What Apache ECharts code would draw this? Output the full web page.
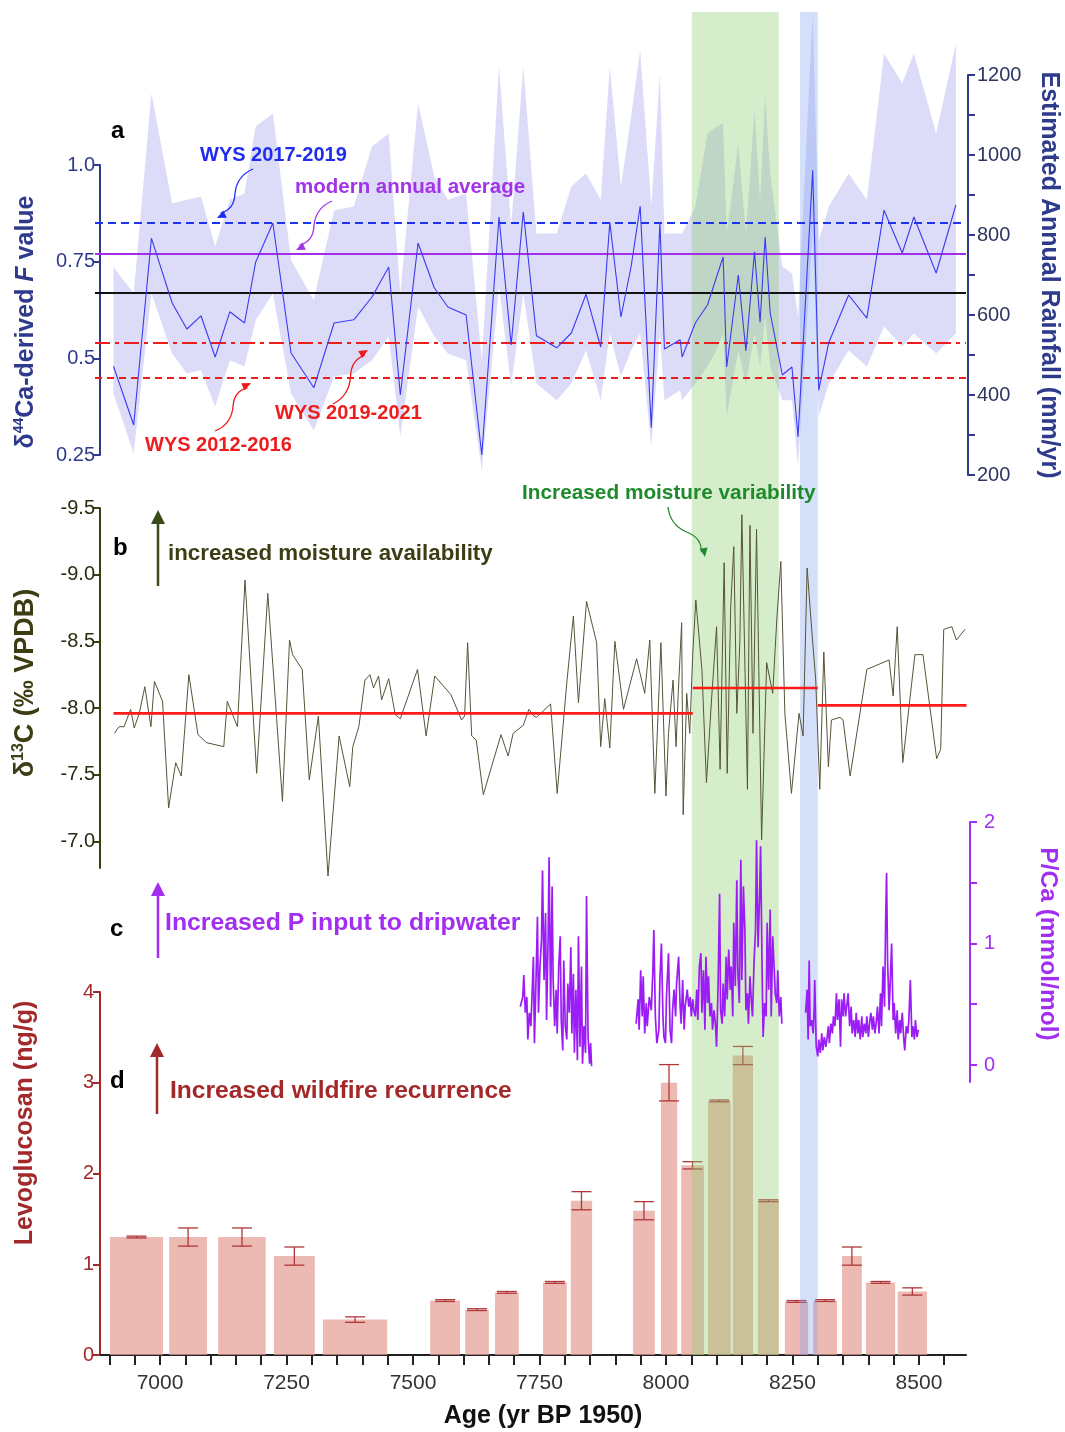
<!DOCTYPE html>
<html>
<head>
<meta charset="utf-8">
<script src="https://cdn.jsdelivr.net/npm/echarts@6/dist/echarts.min.js"></script>
<style>
  html, body { margin: 0; padding: 0; background: #fff; }
  #chart { width: 1065px; height: 1432px; }
</style>
</head>
<body>
<div id="chart"></div>
<script>
// ---- data (ages in yr BP 1950) ----
// panel a: estimated annual rainfall (mm/yr) and its envelope
const rainAge = [6908,6948,6983,7024,7053,7081,7109,7138,7167,7189,7223,7259,7304,7344,7383,7419,7452,7475,7510,7542,7569,7605,7636,7670,7694,7718,7744,7784,7813,7842,7871,7889,7911,7931,7949,7971,7988,7997,8028,8032,8058,8082,8100,8113,8120,8143,8158,8175,8186,8196,8206,8230,8249,8261,8290,8302,8322,8361,8397,8431,8467,8490,8534,8573];
const rainMid = [472,325,792,630,565,598,495,608,580,732,830,505,418,580,588,645,720,400,780,668,620,600,250,845,525,858,548,518,555,652,520,832,595,720,872,318,832,515,538,495,580,625,695,745,470,700,510,758,582,795,605,450,470,295,962,412,532,650,592,862,755,845,705,875];
const rainHigh = [720,654,1154,879,888,896,771,888,904,1071,1104,737,637,862,871,1021,1054,654,1129,946,888,904,487,1221,821,1221,804,804,921,954,888,1221,921,1096,1262,871,1204,804,804,804,871,1054,1071,1079,804,1029,804,1112,888,1146,954,721,704,596,1354,787,871,954,888,1254,1179,1254,1054,1279];
const rainLow = [404,254,654,504,454,462,371,487,471,587,654,404,312,446,454,487,546,296,621,546,504,487,212,671,421,654,429,387,429,512,387,554,446,512,554,271,554,387,412,387,429,471,512,554,346,512,429,554,471,596,471,387,387,221,804,346,429,512,471,571,521,554,504,554];

// reference F values (left axis of panel a)
const fWys1719 = 0.85;
const fModern = 0.77;
const fMean = 0.667;
const fWys1921 = 0.535;
const fWys1216 = 0.45;

// panel b: d13C
const c13Age = [6910,6919,6929,6942,6949,6959,6970,6982,6989,7005,7017,7031,7042,7057,7075,7092,7126,7133,7153,7168,7191,7213,7242,7256,7262,7281,7295,7313,7332,7354,7375,7381,7393,7405,7415,7422,7432,7438,7452,7465,7475,7509,7526,7543,7575,7596,7602,7608,7616,7625,7639,7674,7688,7698,7718,7729,7739,7744,7772,7785,7804,7817,7827,7843,7863,7871,7879,7889,7899,7916,7942,7958,7968,7978,7990,8000,8005,8014,8020,8024,8031,8034,8041,8047,8053,8059,8071,8080,8090,8100,8107,8115,8121,8128,8134,8140,8146,8150,8161,8166,8172,8179,8189,8199,8211,8219,8227,8235,8248,8263,8271,8279,8288,8296,8304,8312,8321,8327,8344,8350,8364,8397,8441,8449,8457,8468,8492,8508,8535,8543,8549,8565,8574,8591];
const c13Val = [-7.81,-7.86,-7.86,-7.99,-7.85,-7.96,-8.16,-7.86,-8.20,-8.05,-7.25,-7.59,-7.49,-8.25,-7.80,-7.74,-7.71,-8.05,-7.86,-8.96,-7.51,-8.86,-7.30,-8.51,-8.40,-8.29,-7.46,-7.94,-6.74,-7.79,-7.41,-7.71,-7.86,-8.21,-8.25,-8.15,-8.24,-8.06,-8.22,-7.95,-7.92,-8.29,-7.79,-8.24,-8.10,-7.91,-7.94,-8.49,-7.79,-7.76,-7.35,-7.80,-7.64,-7.81,-7.87,-7.99,-7.94,-7.93,-8.03,-7.36,-8.19,-8.69,-8.04,-8.80,-8.49,-7.71,-8.07,-7.70,-8.50,-7.99,-8.37,-8.11,-8.51,-7.36,-8.49,-7.34,-7.81,-8.21,-7.71,-8.09,-8.64,-7.20,-8.11,-7.81,-8.41,-8.81,-8.29,-7.44,-8.06,-8.61,-7.54,-9.09,-7.51,-8.76,-9.21,-7.96,-8.49,-9.45,-7.39,-9.37,-7.81,-9.34,-7.01,-8.34,-8.11,-8.66,-9.10,-7.96,-7.36,-7.96,-7.79,-9.05,-8.59,-8.21,-7.39,-8.42,-7.56,-7.91,-7.93,-7.91,-7.49,-8.29,-8.36,-8.09,-8.61,-7.59,-8.40,-8.40,-7.62,-7.69,-8.59,-8.61,-8.51,-8.59];
// mean d13C for the three intervals
const meanStart = [6908, 8053, 8300];
const meanEnd = [8053, 8300, 8594];
const meanVal = [-7.96, -8.15, -8.02];

// panel c: P/Ca (mmol/mol), three sampled sections
const pca1Age = [7712,7717,7719,7722,7725,7727,7730,7733,7735,7738,7740,7743,7746,7748,7751,7754,7756,7759,7762,7764,7767,7769,7772,7775,7777,7780,7783,7785,7788,7791,7793,7796,7798,7801,7804,7806,7809,7812,7814,7817,7819,7822,7825,7827,7830,7833,7835,7838,7841,7843,7846,7849,7851,7853];
const pca1Val = [0.48,0.56,0.74,0.43,0.56,0.21,0.43,0.32,0.54,0.89,0.18,0.67,1.22,0.43,0.81,1.03,1.60,0.70,1.25,0.37,1.03,1.71,0.48,1.47,0.70,0.32,0.62,0.26,0.81,1.06,0.37,0.12,0.86,0.32,0.21,0.67,0.43,0.97,0.26,0.75,0.10,0.62,0.04,1.06,0.15,0.81,0.01,0.32,0.10,1.39,0.23,0.01,0.18,-0.01];
const pca2Age = [7941,7945,7947,7950,7953,7955,7958,7961,7963,7967,7971,7974,7976,7979,7982,7986,7988,7991,7994,7996,7999,8001,8005,8008,8011,8013,8016,8019,8021,8025,8028,8030,8033,8036,8038,8042,8045,8048,8050,8053,8055,8058,8061,8063,8066,8069,8071,8074,8077,8079,8082,8084,8087,8090,8092,8095,8098,8100,8103,8106,8108,8111,8113,8116,8119,8121,8124,8127,8129,8132,8134,8137,8140,8142,8145,8148,8150,8153,8156,8158,8161,8163,8166,8169,8171,8174,8177,8179,8182,8185,8187,8190,8192,8195,8198,8200,8203,8206,8208,8211,8214,8216,8219,8221,8224,8227,8229];
const pca2Val = [0.34,0.54,0.29,0.78,0.40,0.73,0.26,0.51,0.32,0.56,0.45,0.76,1.11,0.40,0.18,0.29,0.70,1.00,0.40,0.23,0.18,0.56,0.92,0.29,0.18,0.45,0.62,0.40,0.67,0.89,0.48,0.34,0.70,0.29,0.48,0.62,0.48,0.56,0.40,0.54,0.45,0.40,0.62,0.37,0.81,0.92,0.43,0.78,0.29,0.89,0.51,0.73,0.40,0.51,0.29,0.45,0.32,0.15,0.65,1.41,0.45,0.34,0.67,0.40,0.89,0.54,0.95,0.62,0.81,0.40,1.17,0.65,1.52,0.78,0.51,1.69,0.70,1.47,1.11,0.45,0.59,0.34,0.73,0.51,0.40,0.84,1.11,1.85,0.97,1.39,1.80,0.78,0.23,0.51,0.40,1.17,0.62,1.28,0.40,1.06,0.78,0.59,0.51,0.78,0.40,0.56,0.34];
const pca3Age = [8276,8279,8281,8283,8285,8288,8291,8293,8294,8297,8300,8302,8305,8308,8310,8313,8316,8318,8321,8323,8326,8329,8331,8334,8337,8339,8342,8345,8347,8350,8352,8355,8358,8360,8363,8366,8368,8371,8374,8376,8379,8381,8384,8387,8389,8392,8395,8397,8400,8403,8405,8408,8410,8413,8416,8418,8421,8424,8426,8429,8432,8434,8436,8438,8441,8443,8446,8449,8451,8454,8457,8459,8462,8464,8467,8470,8472,8475,8478,8480,8483,8486,8488,8491,8493,8496,8499];
const pca3Val = [0.43,0.62,0.21,0.86,0.32,0.37,0.26,0.48,0.70,0.15,0.07,0.21,0.10,0.26,0.12,0.23,0.15,0.21,0.32,0.18,0.34,0.26,0.40,0.32,0.59,0.37,0.54,0.15,0.54,0.40,0.59,0.40,0.51,0.59,0.32,0.48,0.26,0.37,0.23,0.43,0.26,0.37,0.21,0.40,0.23,0.34,0.26,0.40,0.23,0.37,0.43,0.29,0.40,0.26,0.37,0.48,0.26,0.59,0.32,0.81,0.48,1.14,1.58,0.86,0.45,0.65,1.00,0.37,0.51,0.26,0.45,0.21,0.37,0.26,0.43,0.21,0.12,0.32,0.26,0.37,0.70,0.23,0.32,0.21,0.37,0.23,0.29];

// panel d: levoglucosan (ng/g), one bar per sampled age interval
const levoStart = [6901,7018,7115,7225,7322,7534,7603,7662,7757,7812,7935,7990,8030,8083,8132,8182,8235,8291,8348,8395,8458];
const levoEnd = [7006,7093,7209,7306,7449,7593,7650,7709,7804,7854,7978,8022,8075,8128,8172,8223,8281,8338,8387,8453,8516];
const levoVal = [1.30,1.30,1.30,1.09,0.39,0.60,0.50,0.69,0.80,1.70,1.59,3.00,2.09,2.80,3.30,1.70,0.59,0.60,1.09,0.80,0.70];
const levoErr = [0.01,0.10,0.10,0.10,0.03,0.01,0.01,0.01,0.01,0.10,0.10,0.20,0.04,0.01,0.10,0.01,0.01,0.01,0.10,0.01,0.04];

// highlighted intervals (green: moisture variability, blue: 8.2 ka)
const shadeStart = [8051, 8265];
const shadeEnd = [8223, 8300];

// tick labels
const ageLabels = [7000, 7250, 7500, 7750, 8000, 8250, 8500];
const rainLabels = [200, 400, 600, 800, 1000, 1200];
const c13Labels = [-9.5, -9.0, -8.5, -8.0, -7.5, -7.0];
const pcaLabels = [0, 1, 2];

// ---- styling ----
const FONT = '"Liberation Sans", Arial, Helvetica, sans-serif';
const X_MIN = 6871.5, X_MAX = 8593;
const NAVY = '#2e3a8c';
const OLIVE = '#3d3d14';
const PURPLE = '#a12ef0';
const DRED = '#a3282a';

const ageTicks = [];
for (let a = 6900; a <= 8550; a += 50) ageTicks.push(a);
const rainTicks = [];
for (let r = 200; r <= 1200; r += 100) rainTicks.push(r);

const plain = v => String(v);

const chart = echarts.init(document.getElementById('chart'), null, { renderer: 'canvas' });

const grids = [
  { top: 12, height: 1343 },   // full height, shading
  { top: 75, height: 400 },    // a: rainfall
  { top: 165, height: 290 },   // a: F value
  { top: 508, height: 360 },   // b
  { top: 822, height: 260 },   // c
  { top: 992, height: 363 }    // d
].map(g => Object.assign({ left: 95, right: 99, containLabel: false, outerBoundsMode: 'none' }, g));

const xAxes = grids.map((g, i) => ({
  gridIndex: i, type: 'value', min: X_MIN, max: X_MAX, show: i === 5,
  axisLine: { show: true, onZero: false, lineStyle: { color: '#222', width: 2 } },
  axisTick: { show: true, length: 10, customValues: ageTicks, lineStyle: { color: '#222', width: 2 } },
  axisLabel: { customValues: ageLabels, fontSize: 21, color: '#333', margin: 18, fontFamily: FONT, formatter: plain },
  splitLine: { show: false }
}));

function yAx(grid, color, extra) {
  return Object.assign({
    gridIndex: grid, type: 'value',
    axisLine: { show: true, onZero: false, lineStyle: { color: color, width: 2 } },
    axisTick: { show: true, length: 7, lineStyle: { color: color, width: 2 } },
    axisLabel: { color: color, fontSize: 20, fontFamily: FONT, margin: 5, formatter: plain },
    splitLine: { show: false }
  }, extra);
}

const yAxes = [
  { gridIndex: 0, type: 'value', min: 0, max: 1, show: false },
  yAx(1, NAVY, {
    min: 200, max: 1200, position: 'right', offset: 2,
    axisTick: { show: true, length: 7, customValues: rainTicks, lineStyle: { color: NAVY, width: 2 } },
    axisLabel: { customValues: rainLabels, color: '#2d3561', fontSize: 20, fontFamily: FONT, margin: 9, formatter: plain }
  }),
  yAx(2, NAVY, {
    min: 0.25, max: 1, interval: 0.25, position: 'left', offset: -5,
    axisLabel: { color: NAVY, fontSize: 20, fontFamily: FONT, margin: 5,
      formatter: v => (v === 1 ? '1.0' : String(v)) }
  }),
  yAx(3, OLIVE, {
    min: -9.5, max: -6.8, inverse: true, position: 'left', offset: -5,
    axisTick: { show: true, length: 7, customValues: c13Labels, lineStyle: { color: OLIVE, width: 2 } },
    axisLabel: { customValues: c13Labels, color: '#2a2a10', fontSize: 20, fontFamily: FONT, margin: 5,
      formatter: v => v.toFixed(1) }
  }),
  yAx(4, PURPLE, {
    min: -0.14, max: 2, position: 'right', offset: 4,
    axisTick: { show: true, length: 7, customValues: [0, 0.5, 1, 1.5, 2], lineStyle: { color: PURPLE, width: 2 } },
    axisLabel: { customValues: pcaLabels, color: PURPLE, fontSize: 20, fontFamily: FONT, margin: 14, formatter: plain }
  }),
  yAx(5, DRED, {
    min: 0, max: 4, interval: 1, position: 'left', offset: -5,
    axisLabel: { color: DRED, fontSize: 20, fontFamily: FONT, margin: 6, formatter: plain }
  })
];

const zip = (xs, ys) => xs.map((x, i) => [x, ys[i]]);

function lineSeries(x, y, data, color, width, z) {
  return {
    type: 'line', xAxisIndex: x, yAxisIndex: y, data: data, showSymbol: false, symbol: 'none',
    clip: false, z: z || 4, silent: true, animation: false,
    lineStyle: { color: color, width: width }
  };
}

function refLine(value, color, type, width) {
  return { yAxis: value, lineStyle: { color: color, type: type, width: width } };
}

const series = [
  // shaded intervals over all panels
  {
    type: 'custom', xAxisIndex: 0, yAxisIndex: 0, z: 3, silent: true, animation: false,
    data: shadeStart.map((s, i) => [s, shadeEnd[i], i]),
    renderItem: (params, api) => {
      const p0 = api.coord([api.value(0), 1]);
      const p1 = api.coord([api.value(1), 0]);
      const fill = api.value(2) === 0 ? 'rgba(140,205,110,0.36)' : 'rgba(120,160,235,0.32)';
      return { type: 'rect', shape: { x: p0[0], y: p0[1], width: p1[0] - p0[0], height: p1[1] - p0[1] }, style: { fill: fill } };
    }
  },
  // rainfall envelope
  {
    type: 'custom', xAxisIndex: 1, yAxisIndex: 1, z: 1, silent: true, animation: false, clip: false,
    data: [[rainAge[0], rainLow[0]]],
    renderItem: (params, api) => {
      const up = rainAge.map((a, i) => api.coord([a, rainHigh[i]]));
      const lo = rainAge.map((a, i) => api.coord([a, rainLow[i]])).reverse();
      return { type: 'polygon', shape: { points: up.concat(lo) }, style: { fill: 'rgba(130,130,235,0.28)' } };
    }
  },
  lineSeries(1, 1, zip(rainAge, rainMid), '#3a3af0', 1.1, 5),
  // modern reference levels
  {
    type: 'line', xAxisIndex: 2, yAxisIndex: 2, data: [], z: 4, silent: true, animation: false,
    markLine: {
      symbol: 'none', silent: true, animation: false, label: { show: false },
      data: [
        refLine(fWys1719, '#1c33f2', [8, 5], 2),
        refLine(fModern, '#a22ee8', 'solid', 2),
        refLine(fMean, '#111', 'solid', 2),
        refLine(fWys1921, '#ee1c1c', [15, 5, 4, 5], 2),
        refLine(fWys1216, '#ee1c1c', [7, 5], 2)
      ]
    }
  },
  // d13C
  lineSeries(3, 3, zip(c13Age, c13Val), '#55553a', 1, 4)
];

meanStart.forEach((s, i) => {
  series.push(lineSeries(3, 3, [[s, meanVal[i]], [meanEnd[i], meanVal[i]]], '#ff1a1a', 2.6, 6));
});

[[pca1Age, pca1Val], [pca2Age, pca2Val], [pca3Age, pca3Val]].forEach(p => {
  series.push(lineSeries(4, 4, zip(p[0], p[1]), '#9b1cf5', 1.7, 4));
});

// levoglucosan bars with error bars
series.push({
  type: 'custom', xAxisIndex: 5, yAxisIndex: 5, z: 2, silent: true, animation: false,
  data: levoStart.map((s, i) => [s, levoEnd[i], levoVal[i], levoErr[i]]),
  renderItem: (params, api) => {
    const v = api.value(2), e = api.value(3);
    const p0 = api.coord([api.value(0), v]);
    const p1 = api.coord([api.value(1), 0]);
    const mx = (p0[0] + p1[0]) / 2;
    const hi = api.coord([api.value(0), v + e])[1];
    const lo = api.coord([api.value(0), v - e])[1];
    const cap = 10;
    const ls = { stroke: '#b0363a', lineWidth: 1.3 };
    return {
      type: 'group',
      children: [
        { type: 'rect', shape: { x: p0[0], y: p0[1], width: p1[0] - p0[0], height: p1[1] - p0[1] },
          style: { fill: 'rgba(228,160,148,0.72)' } },
        { type: 'line', shape: { x1: mx, y1: hi, x2: mx, y2: lo }, style: ls },
        { type: 'line', shape: { x1: mx - cap, y1: hi, x2: mx + cap, y2: hi }, style: ls },
        { type: 'line', shape: { x1: mx - cap, y1: lo, x2: mx + cap, y2: lo }, style: ls }
      ]
    };
  }
});

// ---- annotations ----
function txt(x, y, text, color, size) {
  return {
    type: 'text', x: x, y: y, z: 20, silent: true,
    style: {
      text: text, fill: color, fontSize: size, fontWeight: 'bold', fontFamily: FONT,
      align: 'left', verticalAlign: 'middle', textAlign: 'left', textVerticalAlign: 'middle'
    }
  };
}

function vTitle(x, y, text, color, size, rot, rich) {
  const st = {
    text: text, fill: color, fontSize: size, fontWeight: 'bold', fontFamily: FONT,
    align: 'center', verticalAlign: 'middle', textAlign: 'center', textVerticalAlign: 'middle'
  };
  if (rich) st.rich = rich;
  return { type: 'text', x: x, y: y, rotation: rot, z: 20, silent: true, style: st };
}

function headAt(tx, ty, fx, fy, len, half, color) {
  const dx = tx - fx, dy = ty - fy, l = Math.hypot(dx, dy);
  const ux = dx / l, uy = dy / l;
  const bx = tx - ux * len, by = ty - uy * len;
  return {
    type: 'polygon', z: 20, silent: true,
    shape: { points: [[tx, ty], [bx - uy * half, by + ux * half], [bx + uy * half, by - ux * half]] },
    style: { fill: color }
  };
}

// wavy pointer: two quadratic curves plus a head
function squiggle(x0, y0, x1, y1, color) {
  const dx = x1 - x0, dy = y1 - y0, l = Math.hypot(dx, dy);
  const nx = -dy / l * 9, ny = dx / l * 9;
  const mx = x0 + dx * 0.5, my = y0 + dy * 0.5;
  const c2x = x0 + dx * 0.72 - nx, c2y = y0 + dy * 0.72 - ny;
  const ex = x1 - dx / l * 6, ey = y1 - dy / l * 6;
  const st = { stroke: color, lineWidth: 1.3, fill: null };
  return [
    { type: 'bezierCurve', z: 20, silent: true, style: st,
      shape: { x1: x0, y1: y0, x2: mx, y2: my, cpx1: x0 + dx * 0.25 + nx, cpy1: y0 + dy * 0.25 + ny } },
    { type: 'bezierCurve', z: 20, silent: true, style: st,
      shape: { x1: mx, y1: my, x2: ex, y2: ey, cpx1: c2x, cpy1: c2y } },
    headAt(x1, y1, c2x, c2y, 9, 4, color)
  ];
}

function upArrow(x, yBase, yTip, color) {
  return [
    { type: 'line', z: 20, silent: true, shape: { x1: x, y1: yBase, x2: x, y2: yTip + 10 },
      style: { stroke: color, lineWidth: 2.5 } },
    headAt(x, yTip, x, yBase, 14, 7, color)
  ];
}

const sup = { fontSize: 14, fontWeight: 'bold', fontFamily: FONT, lineHeight: 12, verticalAlign: 'top' };

const graphics = [
  txt(111, 131, 'a', '#000', 24),
  txt(113, 548, 'b', '#000', 24),
  txt(110, 929, 'c', '#000', 24),
  txt(110, 1081, 'd', '#000', 24),

  txt(200, 155, 'WYS 2017-2019', '#1f2cf0', 20),
  txt(295, 187, 'modern annual average', '#a233e8', 20.5),
  txt(275, 413, 'WYS 2019-2021', '#ee1c1c', 20),
  txt(145, 445, 'WYS 2012-2016', '#ee1c1c', 20),
  ...squiggle(253, 169, 217, 218, '#1f2cf0'),
  ...squiggle(332, 201, 296, 250, '#a233e8'),
  ...squiggle(333, 404, 368, 350, '#ee1c1c'),
  ...squiggle(215, 431, 251, 383, '#ee1c1c'),

  txt(522, 493, 'Increased moisture variability', '#1f8a2c', 20.8),
  ...squiggle(668, 507, 705, 557, '#1f8a2c'),

  ...upArrow(158, 586, 510, '#3a4a18'),
  txt(168, 554, 'increased moisture availability', OLIVE, 22.3),
  ...upArrow(158, 958, 882, PURPLE),
  txt(165, 923, 'Increased P input to dripwater', PURPLE, 24.8),
  ...upArrow(157, 1114, 1043, DRED),
  txt(170, 1091, 'Increased wildfire recurrence', DRED, 24.6),

  // axis titles
  vTitle(26, 322, '{a|δ}{s|44}{a|Ca-derived }{i|F}{a| value}', NAVY, 25, Math.PI / 2, {
    a: { fontSize: 25, fontWeight: 'bold', fontFamily: FONT, fill: NAVY, lineHeight: 28 },
    i: { fontSize: 25, fontWeight: 'bold', fontStyle: 'italic', fontFamily: FONT, fill: NAVY, lineHeight: 28 },
    s: Object.assign({ fill: NAVY }, sup)
  }),
  vTitle(1049, 275, 'Estimated Annual Rainfall (mm/yr)', NAVY, 25, -Math.PI / 2),
  vTitle(26, 683, '{a|δ}{s|13}{a|C (‰ VPDB)}', OLIVE, 27, Math.PI / 2, {
    a: { fontSize: 27, fontWeight: 'bold', fontFamily: FONT, fill: OLIVE, lineHeight: 30 },
    s: Object.assign({ fill: OLIVE }, sup, { fontSize: 16 })
  }),
  vTitle(1048, 944, 'P/Ca (mmol/mol)', PURPLE, 24.5, -Math.PI / 2),
  vTitle(25, 1123, 'Levoglucosan (ng/g)', DRED, 25, Math.PI / 2),
  vTitle(543, 1416, 'Age (yr BP 1950)', '#111', 25, 0)
];

chart.setOption({
  backgroundColor: '#fff',
  animation: false,
  grid: grids,
  xAxis: xAxes,
  yAxis: yAxes,
  series: series,
  graphic: graphics
});
</script>
</body>
</html>
